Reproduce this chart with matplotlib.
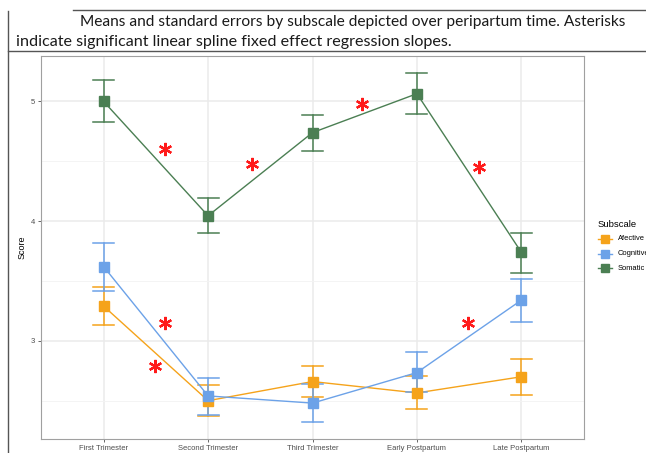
import matplotlib
matplotlib.use("Agg")
import matplotlib.pyplot as plt
from matplotlib.lines import Line2D
from matplotlib.ticker import MultipleLocator

# ---- data -------------------------------------------------------------
timepoints = ["First Trimester", "Second Trimester", "Third Trimester",
              "Early Postpartum", "Late Postpartum"]
subscales = ["Afective", "Cognitive", "Somatic"]

affective_mean = [3.29, 2.50, 2.66, 2.565, 2.70]
affective_lo = [3.13, 2.375, 2.53, 2.43, 2.545]
affective_hi = [3.45, 2.63, 2.79, 2.705, 2.85]

cognitive_mean = [3.62, 2.54, 2.48, 2.735, 3.34]
cognitive_lo = [3.42, 2.38, 2.32, 2.57, 3.155]
cognitive_hi = [3.815, 2.69, 2.64, 2.91, 3.52]

somatic_mean = [5.00, 4.045, 4.74, 5.065, 3.74]
somatic_lo = [4.83, 3.90, 4.59, 4.895, 3.57]
somatic_hi = [5.18, 4.19, 4.89, 5.235, 3.90]

# significant spline slopes marked with asterisks (x, y in axis units)
sig_x = [0.585, 1.425, 2.475, 3.59, 0.585, 0.49, 3.49]
sig_y = [4.60, 4.48, 4.98, 4.455, 3.15, 2.79, 3.15]

caption_1 = "Means and standard errors by subscale depicted over peripartum time. Asterisks"
caption_2 = "indicate significant linear spline fixed effect regression slopes."

# ---- styling ------------------------------------------------------------
colors = {"Afective": "#F5A31B", "Cognitive": "#6CA2E8", "Somatic": "#4B7F53"}
series = {
    "Afective": (affective_mean, affective_lo, affective_hi),
    "Cognitive": (cognitive_mean, cognitive_lo, cognitive_hi),
    "Somatic": (somatic_mean, somatic_lo, somatic_hi),
}

W, H = 646, 453
fig = plt.figure(figsize=(W / 100, H / 100), dpi=100)
plt.rcParams["font.family"] = ["Liberation Sans", "DejaVu Sans"]

ax = fig.add_axes([41 / W, 1 - 439 / H, (584 - 41) / W, (439 - 56) / H])
x = list(range(len(timepoints)))
cap = 0.1

for name in subscales:
    m, lo, hi = series[name]
    c = colors[name]
    ax.plot(x, m, color=c, lw=1.0, zorder=3)
    for xi, l, h in zip(x, lo, hi):
        ax.plot([xi, xi], [l, h], color=c, lw=1.1, zorder=3)
        ax.plot([xi - cap, xi + cap], [l, l], color=c, lw=1.1, zorder=3)
        ax.plot([xi - cap, xi + cap], [h, h], color=c, lw=1.1, zorder=3)
    ax.plot(x, m, linestyle="none", marker="s", markersize=6.5,
            color=c, zorder=4)

ax.plot(sig_x, sig_y, linestyle="none", marker=(6, 2, 0), markersize=9.5,
        markeredgewidth=1.6, color="#FF1A1A", zorder=5)

ax.set_xlim(-0.6, 4.6)
ax.set_ylim(2.18, 5.38)
ax.set_xticks(x)
ax.set_xticklabels(timepoints)
ax.yaxis.set_major_locator(MultipleLocator(1))
ax.yaxis.set_minor_locator(MultipleLocator(0.5))
ax.set_ylabel("Score", fontsize=6.5, color="black", labelpad=3)

ax.set_axisbelow(True)
ax.grid(True, which="major", color="#EBEBEB", lw=1.1)
ax.grid(True, which="minor", axis="y", color="#F3F3F3", lw=0.6)
ax.tick_params(axis="both", which="major", labelsize=5.5, colors="#4D4D4D",
               length=2.5, width=0.6, pad=2)
ax.tick_params(axis="y", which="minor", length=0)
for sp in ax.spines.values():
    sp.set_color("#A0A0A0")
    sp.set_linewidth(0.8)

# ---- legend -----------------------------------------------------------
fig.text(598 / W, 1 - 224 / H, "Subscale", fontsize=6.8, va="center",
         ha="left", color="black")
for i, name in enumerate(subscales):
    yk = 1 - (239 + 14.5 * i) / H
    fig.add_artist(Line2D([598 / W, 612 / W], [yk, yk], color=colors[name],
                          lw=1.0, transform=fig.transFigure))
    fig.add_artist(Line2D([605 / W], [yk], color=colors[name], marker="s",
                          markersize=5.5, transform=fig.transFigure))
    fig.text(618 / W, yk, name, fontsize=5.4, va="center", ha="left",
             color="black")

# ---- caption box ------------------------------------------------------
border = "#555555"
fig.add_artist(Line2D([73 / W, 1], [1 - 9.5 / H, 1 - 9.5 / H], color=border,
                      lw=1.0, transform=fig.transFigure))
fig.add_artist(Line2D([8 / W, 8 / W], [1 - 11 / H, 0], color=border,
                      lw=1.0, transform=fig.transFigure))
fig.add_artist(Line2D([8 / W, 1], [1 - 51 / H, 1 - 51 / H], color=border,
                      lw=1.0, transform=fig.transFigure))
fig.text(80 / W, 1 - 22 / H, caption_1, fontsize=11.2, family="Lato",
         va="center", ha="left", color="#1A1A1A")
fig.text(16 / W, 1 - 42 / H, caption_2, fontsize=11.6, family="Lato",
         va="center", ha="left", color="#1A1A1A")

fig.savefig("out.png", dpi=100)
